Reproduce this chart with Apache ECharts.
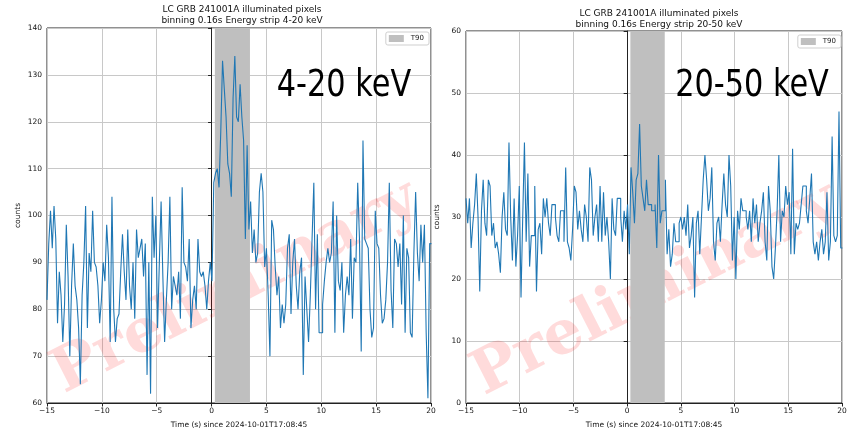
<!DOCTYPE html>
<html>
<head>
<meta charset="utf-8">
<script src="https://cdn.jsdelivr.net/npm/echarts@6/dist/echarts.min.js"></script>
<style>
  html, body { margin: 0; padding: 0; background: #ffffff; }
  #chart { width: 850px; height: 434px; }
</style>
</head>
<body>
<div id="chart"></div>
<script>
// Light curve of GRB 241001A, 0.16 s bins starting at t = -15 s
const binWidth = 0.16;
const binStart = -15;

// T90 interval (s)
const t90Span = [0.3, 3.5];

// Tick settings
const timeTicks = { min: -15, max: 20, step: 5 };
const lowTicks = { min: 60, max: 140, step: 10 };
const highTicks = { min: 0, max: 60, step: 10 };

// Counts per bin, 4-20 keV strip
const countsLow = [
  82, 94, 101, 93, 102, 95, 77, 88, 83, 73, 81, 98, 87, 70, 85, 94, 85, 82, 76, 64,
  83, 90, 102, 76, 92, 88, 101, 90, 89, 85, 77, 82, 90, 86, 98, 91, 73, 104, 80, 73,
  78, 79, 88, 96, 88, 82, 97, 85, 80, 90, 78, 97, 91,
  93, 95, 87, 94, 66, 90, 62, 104, 91, 100, 76, 90, 103, 87, 73, 82, 90, 104, 80, 87,
  85, 83, 88, 78, 106, 90, 89, 86, 95, 76, 82, 85, 80, 95, 88, 87, 88, 85, 80, 86,
  90, 86, 107, 109, 110, 106, 118, 133, 127, 121, 111, 109, 104, 125,
  134, 121, 120, 128, 121, 116, 95, 115, 97, 103, 92, 97, 90, 92, 105, 109, 105, 89, 93, 83,
  70, 99, 97, 89, 83, 87, 76, 81, 77, 81, 93, 96, 79, 90, 95, 85, 80, 88, 91, 66,
  87, 80, 73, 83, 95, 107, 80, 96, 75, 75, 81, 86, 90, 93, 90,
  92, 103, 75, 100, 86, 84, 90, 75, 83, 87, 83, 95, 78, 91, 90, 107, 95, 71, 116, 95,
  94, 93, 80, 74, 76, 101, 94, 93, 83, 77, 78, 82, 90, 107, 84, 76, 95, 94, 89, 94,
  81, 100, 75, 93, 91, 75, 74, 92, 105, 92, 86, 98, 90, 98, 75, 61, 94
];

// Counts per bin, 20-50 keV strip
const countsHigh = [
  33, 29, 33, 25, 29, 32, 37, 30, 18, 31, 36, 29, 27, 36, 35, 27, 29, 25, 26, 24,
  21, 30, 34, 28, 27, 42, 30, 23, 33, 22, 27, 35, 17, 30, 42, 26, 37, 22, 27, 27,
  35, 18, 28, 29, 24, 33, 30, 33, 29, 27, 32, 32,
  30, 27, 26, 31, 31, 26, 38, 26, 25, 23, 28, 35, 34, 28, 31, 28, 26, 32, 30, 26,
  38, 36, 27, 30, 32, 26, 35, 26, 34, 27, 30, 26, 20, 33, 28, 27, 33, 33, 30, 26,
  31, 28, 32, 24, 38, 34, 29, 36, 37, 45, 35, 33, 31, 36, 32,
  32, 31, 31, 32, 25, 40, 29, 31, 31, 36, 24, 28, 22, 24, 29, 26, 26, 29, 30, 28,
  30, 27, 32, 25, 27, 30, 17, 29, 31, 24, 30, 36, 40, 36, 31, 33, 38, 26, 23, 29,
  30, 26, 32, 37, 32, 30, 40, 35, 23, 30, 20, 31, 28, 33, 31,
  31, 30, 28, 31, 26, 33, 29, 32, 26, 29, 31, 34, 26, 23, 35, 31, 22, 20, 25, 31,
  40, 26, 31, 30, 35, 32, 34, 24, 41, 24, 29, 28, 29, 32, 35, 35, 31, 29, 33, 37,
  26, 24, 26, 23, 26, 28, 24, 26, 34, 23, 26, 43, 27, 26, 27, 47, 25
];

const titleTop = 'LC GRB 241001A illuminated pixels';
const titleLow = 'binning 0.16s Energy strip 4-20 keV';
const titleHigh = 'binning 0.16s Energy strip 20-50 keV';
const bandLow = '4-20 keV';
const bandHigh = '20-50 keV';
const xName = 'Time (s) since 2024-10-01T17:08:45';
const yName = 'counts';
const stampText = 'Preliminary';

const FONT = "'DejaVu Sans', sans-serif";
const LINE = '#1f77b4';
const SPAN = '#bfbfbf';

// Each bin becomes a flat segment from its left edge to its right edge,
// so consecutive bins join with vertical steps.
function stepPoints(counts) {
  const pts = [];
  counts.forEach((c, i) => {
    const left = +(binStart + i * binWidth).toFixed(2);
    const right = +(binStart + (i + 1) * binWidth).toFixed(2);
    pts.push([left, c], [right, c]);
  });
  return pts;
}

const minus = v => (v < 0 ? '\u2212' + Math.abs(v) : String(v));

const grids = [
  { left: 47, top: 28, width: 384, height: 382 },
  { left: 466, top: 31, width: 376, height: 375 }
];

function xAxisFor(idx) {
  return {
    type: 'value', gridIndex: idx,
    min: timeTicks.min, max: timeTicks.max, interval: timeTicks.step,
    name: xName, nameLocation: 'middle', nameGap: 18,
    nameTextStyle: { fontFamily: FONT, fontSize: 7.5, color: '#111' },
    axisLine: { show: true, lineStyle: { color: '#222', width: 1 } },
    axisTick: { show: true, length: 3.5, lineStyle: { color: '#222' } },
    axisLabel: { fontFamily: FONT, fontSize: 7.5, color: '#111', margin: 4, formatter: minus },
    splitLine: { show: true, lineStyle: { color: '#c8c8c8', width: 1 } }
  };
}

function yAxisFor(idx, t) {
  return {
    type: 'value', gridIndex: idx,
    min: t.min, max: t.max, interval: t.step,
    name: yName, nameLocation: 'middle', nameGap: 25,
    nameTextStyle: { fontFamily: FONT, fontSize: 7.5, color: '#111' },
    axisLine: { show: true, lineStyle: { color: '#222', width: 1 } },
    axisTick: { show: true, length: 3.5, lineStyle: { color: '#222' } },
    axisLabel: { fontFamily: FONT, fontSize: 7.5, color: '#111', margin: 5 },
    splitLine: { show: true, lineStyle: { color: '#c8c8c8', width: 1 } }
  };
}

function curveSeries(idx, counts) {
  return {
    type: 'line', xAxisIndex: idx, yAxisIndex: idx,
    showSymbol: false, z: 3, clip: true,
    data: stepPoints(counts),
    lineStyle: { color: LINE, width: 1.1 },
    markArea: {
      silent: true,
      itemStyle: { color: SPAN },
      data: [[{ xAxis: t90Span[0] }, { xAxis: t90Span[1] }]]
    }
  };
}

function legendSeries(idx) {
  return {
    type: 'bar', name: 'T90', xAxisIndex: idx, yAxisIndex: idx,
    data: [], itemStyle: { color: SPAN }
  };
}

function legendFor(right, top) {
  return {
    right: right, top: top, orient: 'vertical',
    data: ['T90'], icon: 'rect', itemWidth: 15, itemHeight: 7, itemGap: 4,
    padding: [3, 5, 3, 3], borderColor: '#cfcfcf', borderWidth: 1, borderRadius: 2,
    backgroundColor: '#ffffff',
    textStyle: { fontFamily: FONT, fontSize: 7, color: '#222', padding: [0, 0, 0, 2] },
    selectedMode: false
  };
}

function textEl(x, y, text, size, fill) {
  return {
    type: 'text', x: x, y: y, silent: true, z: 10,
    style: {
      text: text, fontFamily: FONT, fontSize: size, fill: fill || '#111',
      align: 'center', verticalAlign: 'middle'
    }
  };
}

function bandLabel(x, y, text) {
  const el = textEl(x, y, text, 37, '#000');
  el.scaleX = 0.82;
  return el;
}

function stamp(x, y) {
  return {
    type: 'text', x: x, y: y, rotation: 27 * Math.PI / 180, z: 1, silent: true,
    style: {
      text: stampText, fontFamily: "'DejaVu Serif', serif", fontWeight: 'bold',
      fontSize: 61, fill: 'rgba(255, 0, 0, 0.14)', align: 'center', verticalAlign: 'middle'
    }
  };
}

const chart = echarts.init(document.getElementById('chart'), null, { renderer: 'canvas' });
chart.setOption({
  animation: false,
  backgroundColor: '#ffffff',
  grid: grids.map(g => Object.assign({ show: true, borderColor: '#222', borderWidth: 1, backgroundColor: 'transparent' }, g)),
  xAxis: [xAxisFor(0), xAxisFor(1)],
  yAxis: [yAxisFor(0, lowTicks), yAxisFor(1, highTicks)],
  legend: [legendFor(421, 32), legendFor(9, 35)],
  series: [
    curveSeries(0, countsLow), legendSeries(0),
    curveSeries(1, countsHigh), legendSeries(1)
  ],
  graphic: [
    stamp(236, 288),
    stamp(656, 290),
    textEl(242, 10, titleTop, 9),
    textEl(242, 21, titleLow, 9),
    textEl(659, 14, titleTop, 9),
    textEl(659, 25, titleHigh, 9),
    bandLabel(344, 86, bandLow),
    bandLabel(752, 86, bandHigh)
  ]
});
</script>
</body>
</html>
